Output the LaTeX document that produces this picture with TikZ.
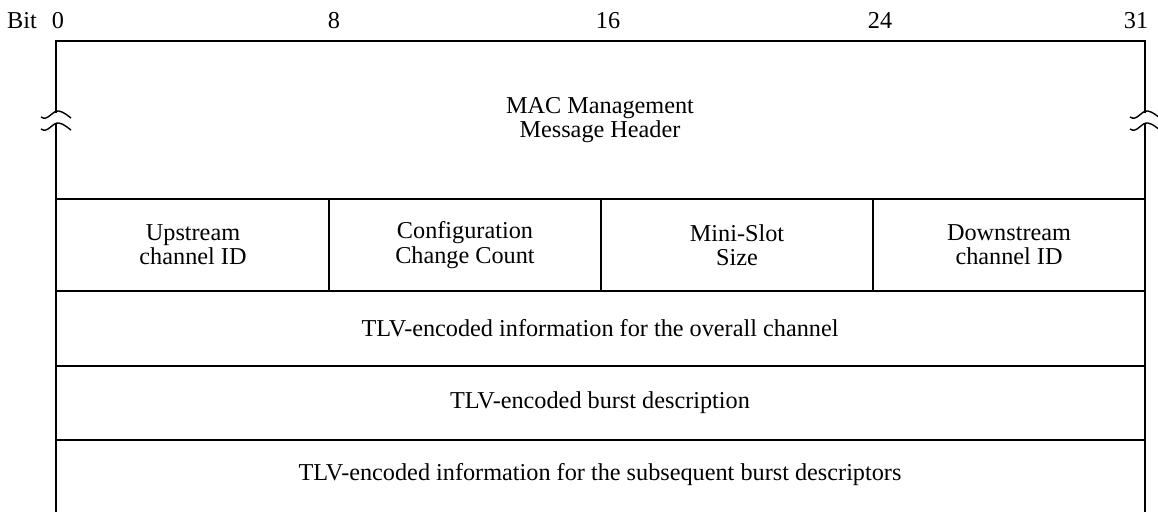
\documentclass[tikz,border=0pt]{standalone}
\usepackage{fontspec}
\setmainfont{Liberation Serif}
\usepackage{tikz}
\usetikzlibrary{positioning,calc}
\tikzset{
  field/.style={align=center, font=\fontsize{13.8}{13.8}\selectfont, inner sep=2pt},
  bitlbl/.style={font=\fontsize{13.8}{14}\selectfont, inner sep=1pt, anchor=base},
  rule/.style={line width=1.2pt, line cap=rect},
  brk/.style={line width=0.8pt},
}

\begin{document}
\begin{tikzpicture}[x=0.02cm,y=-0.02cm]
\useasboundingbox (0,0) rectangle (1158,511);
% bit numbering
\node[bitlbl] (bit) at (22,28) {Bit};
\node[bitlbl] (b0) at (58,28) {0};
\node[bitlbl] (b8) at (334,28) {8};
\node[bitlbl] (b16) at (608,28) {16};
\node[bitlbl] (b24) at (880,28) {24};
\node[bitlbl] (b31) at (1136,28) {31};
% frame
\draw[rule] (56,112) -- (56,41) -- (1145,41) -- (1145,112);
\draw[rule] (56,124) -- (56,511);
\draw[rule] (1145,124) -- (1145,511);
\foreach \y in {199,291,366,440}
  \draw[rule] (56,\y) -- (1145,\y);
\foreach \x in {329,601,873}
  \draw[rule] (\x,199) -- (\x,291);
% break marks
\foreach \x in {56,1145}
  \foreach \y in {115,127}
    \draw[brk] (\x-15,\y+2) .. controls (\x-8,\y+7) and (\x-4,\y-5) .. (\x+3,\y-4)
               .. controls (\x+8,\y-3) and (\x+12,\y+1) .. (\x+15,\y+3);
% fields
\node[field] (hdr) at (600,120) {MAC Management\\Message Header};
\node[field] (usid) at (193,245) {Upstream\\channel ID};
\node[field] (ccc) at (465,245) {Configuration\\Change Count};
\node[field] (mss) at (737,245) {Mini-Slot\\Size};
\node[field] (dsid) at (1009,245) {Downstream\\channel ID};
\node[field] (tlvch) at (600,328) {TLV-encoded information for the overall channel};
\node[field] (tlvbd) at (600,403) {TLV-encoded burst description};
\node[field] (tlvsub) at (600,475) {TLV-encoded information for the subsequent burst descriptors};
\end{tikzpicture}
\end{document}
